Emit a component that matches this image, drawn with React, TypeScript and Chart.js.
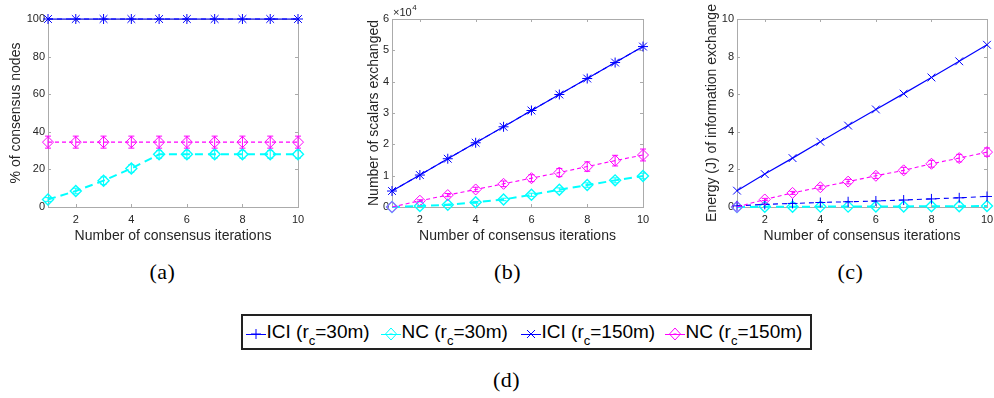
import React, { useEffect, useRef } from 'react';
import { Chart, registerables } from 'chart.js';

Chart.register(...registerables);

// ---------- data ----------
const iterations = [1, 2, 3, 4, 5, 6, 7, 8, 9, 10];
const xTickValues = [2, 4, 6, 8, 10];

// (a) % of consensus nodes
const pctTicks = [0, 20, 40, 60, 80, 100];
const pctICI30 = [100, 100, 100, 100, 100, 100, 100, 100, 100, 100];
const pctNC30 = [4, 8.5, 14, 20.5, 28, 28, 28, 28, 28, 28];
const pctNC30Err = [1, 1.5, 2, 2, 2, 2, 2, 2, 2, 2];
const pctICI150 = [100, 100, 100, 100, 100, 100, 100, 100, 100, 100];
const pctNC150 = [34.5, 34.5, 34.5, 34.5, 34.5, 34.5, 34.5, 34.5, 34.5, 34.5];
const pctNC150Err = [3.2, 3.2, 3.2, 3.2, 3.2, 3.2, 3.2, 3.2, 3.2, 3.2];

// (b) number of scalars exchanged
const scalarTicks = [0, 10000, 20000, 30000, 40000, 50000, 60000];
const scalarICI30 = [5100, 10200, 15400, 20500, 25600, 30800, 35900, 41000, 46100, 51200];
const scalarNC30 = [0, 300, 700, 1500, 2400, 3900, 5500, 7000, 8500, 9900];
const scalarNC30Err = [0, 100, 200, 300, 400, 500, 600, 700, 800, 900];
const scalarICI150 = [5100, 10200, 15400, 20500, 25600, 30800, 35900, 41000, 46100, 51200];
const scalarNC150 = [0, 2000, 3800, 5600, 7400, 9200, 11000, 12900, 14800, 16600];
const scalarNC150Err = [0, 300, 500, 700, 900, 1100, 1300, 1500, 1700, 1900];

// (c) energy (J) of information exchange
const energyTicks = [0, 2, 4, 6, 8, 10];
const energyICI30 = [0.06, 0.14, 0.19, 0.24, 0.28, 0.32, 0.37, 0.43, 0.49, 0.56];
const energyNC30 = [0, 0.01, 0.01, 0.02, 0.02, 0.03, 0.03, 0.04, 0.04, 0.05];
const energyICI150 = [0.87, 1.75, 2.6, 3.47, 4.33, 5.19, 6.03, 6.89, 7.75, 8.63];
const energyNC150 = [0, 0.4, 0.75, 1.05, 1.35, 1.66, 1.95, 2.3, 2.6, 2.92];
const energyNC150Err = [0, 0.06, 0.08, 0.1, 0.12, 0.14, 0.16, 0.18, 0.2, 0.22];

const xTitle = 'Number of consensus iterations';

// ---------- styles ----------
const SANS = '"Liberation Sans", Arial, Helvetica, sans-serif';
const SERIF = '"Liberation Serif", "Times New Roman", serif';
const TEXT = '#262626';
const AXIS = '#ababab';

const styleICI30 = { color: '#0000ff', pointStyle: 'cross', radius: 5, dash: [5, 4], width: 1.1, pw: 1 };
const styleNC30 = { color: '#00ffff', pointStyle: 'rectRot', radius: 5.5, dash: [8, 5], width: 2, pw: 1.4 };
const styleICI150 = { color: '#0000ff', pointStyle: 'crossRot', radius: 5.5, dash: [] as number[], width: 1.2, pw: 1 };
const styleNC150 = { color: '#ff00ff', pointStyle: 'rectRot', radius: 5.5, dash: [4, 3], width: 1.1, pw: 1 };

function makeDataset(label: string, values: number[], st: any, errs: number[] | null, order: number) {
  return {
    label,
    data: iterations.map((x, i) => ({ x, y: values[i] })),
    borderColor: st.color,
    backgroundColor: 'rgba(0,0,0,0)',
    borderWidth: st.width,
    borderDash: st.dash,
    pointStyle: st.pointStyle,
    pointRadius: st.radius,
    pointBorderWidth: st.pw,
    pointBorderColor: st.color,
    pointBackgroundColor: 'rgba(0,0,0,0)',
    tension: 0,
    fill: false,
    clip: false,
    order,
    errorBars: errs,
  };
}

// ---------- plugin: MATLAB-like box, inward ticks, error bars, y title ----------
const matlabAxes = {
  id: 'matlabAxes',
  beforeDatasetsDraw(chart: any) {
    const ctx = chart.ctx;
    const { left, right, top, bottom } = chart.chartArea;
    ctx.save();
    ctx.strokeStyle = AXIS;
    ctx.lineWidth = 1;
    ctx.setLineDash([]);
    ctx.strokeRect(Math.round(left) + 0.5, Math.round(top) + 0.5, Math.round(right - left), Math.round(bottom - top));
    const xs = chart.scales.x;
    const ys = chart.scales.y;
    ctx.beginPath();
    xs.ticks.forEach((t: any) => {
      const px = Math.round(xs.getPixelForValue(t.value)) + 0.5;
      ctx.moveTo(px, bottom);
      ctx.lineTo(px, bottom - 3);
      ctx.moveTo(px, top);
      ctx.lineTo(px, top + 3);
    });
    ys.ticks.forEach((t: any) => {
      const py = Math.round(ys.getPixelForValue(t.value)) + 0.5;
      ctx.moveTo(left, py);
      ctx.lineTo(left + 3, py);
      ctx.moveTo(right, py);
      ctx.lineTo(right - 3, py);
    });
    ctx.stroke();
    ctx.restore();
  },
  afterDatasetsDraw(chart: any) {
    const ctx = chart.ctx;
    const ys = chart.scales.y;
    chart.data.datasets.forEach((ds: any, i: number) => {
      const errs = ds.errorBars;
      if (!errs) return;
      const meta = chart.getDatasetMeta(i);
      ctx.save();
      ctx.strokeStyle = ds.borderColor;
      ctx.lineWidth = 1;
      ctx.setLineDash([]);
      ctx.beginPath();
      meta.data.forEach((pt: any, j: number) => {
        const e = errs[j];
        if (!e) return;
        const v = ds.data[j].y;
        const y1 = ys.getPixelForValue(v - e);
        const y2 = ys.getPixelForValue(v + e);
        const x = pt.x;
        ctx.moveTo(x, y1);
        ctx.lineTo(x, y2);
        ctx.moveTo(x - 3, y1);
        ctx.lineTo(x + 3, y1);
        ctx.moveTo(x - 3, y2);
        ctx.lineTo(x + 3, y2);
      });
      ctx.stroke();
      ctx.restore();
    });
  },
  afterDraw(chart: any, _args: any, opts: any) {
    const ctx = chart.ctx;
    const { left, top, bottom } = chart.chartArea;
    ctx.save();
    ctx.fillStyle = TEXT;
    if (opts.yTitle) {
      ctx.translate(opts.yTitleX, (top + bottom) / 2);
      ctx.rotate(-Math.PI / 2);
      ctx.font = `14px ${SANS}`;
      ctx.textAlign = 'center';
      ctx.textBaseline = 'middle';
      ctx.fillText(opts.yTitle, 0, 0);
      ctx.setTransform(1, 0, 0, 1, 0, 0);
    }
    if (opts.exponent) {
      ctx.font = `11px ${SANS}`;
      ctx.textAlign = 'left';
      ctx.textBaseline = 'middle';
      const base = '\u00d710';
      ctx.fillText(base, left + 1, top - 6);
      const w = ctx.measureText(base).width;
      ctx.font = `8px ${SANS}`;
      ctx.fillText(opts.exponent, left + 1 + w + 0.5, top - 11);
    }
    ctx.restore();
  },
};

type PanelSpec = {
  width: number;
  height: number;
  yAxisWidth: number;
  padRight: number;
  yMax: number;
  yTicks: number[];
  yFormat: (v: number) => string;
  yTitle: string;
  yTitleX: number;
  exponent?: string;
  datasets: any[];
};

function buildConfig(p: PanelSpec): any {
  return {
    type: 'line',
    data: { datasets: p.datasets },
    options: {
      animation: false,
      responsive: false,
      devicePixelRatio: 1,
      events: [],
      layout: { padding: { left: 0, right: p.padRight, top: 19, bottom: 0 } },
      plugins: {
        legend: { display: false },
        tooltip: { enabled: false },
        matlabAxes: { yTitle: p.yTitle, yTitleX: p.yTitleX, exponent: p.exponent },
      },
      scales: {
        x: {
          type: 'linear',
          min: 1,
          max: 10,
          grid: { display: false, drawTicks: false },
          border: { display: false },
          afterBuildTicks: (s: any) => {
            s.ticks = xTickValues.map((v) => ({ value: v }));
          },
          afterFit: (s: any) => {
            s.height = p.height - 207;
            s.paddingLeft = 0;
            s.paddingRight = 0;
          },
          ticks: {
            font: { family: SANS, size: 11 },
            color: TEXT,
            padding: 6,
            maxRotation: 0,
            autoSkip: false,
          },
          title: {
            display: true,
            text: xTitle,
            font: { family: SANS, size: 14 },
            color: TEXT,
            padding: { top: 0, bottom: 5.6 },
          },
        },
        y: {
          type: 'linear',
          min: 0,
          max: p.yMax,
          grid: { display: false, drawTicks: false },
          border: { display: false },
          afterBuildTicks: (s: any) => {
            s.ticks = p.yTicks.map((v) => ({ value: v }));
          },
          afterFit: (s: any) => {
            s.width = p.yAxisWidth;
            s.paddingTop = 0;
            s.paddingBottom = 0;
          },
          ticks: {
            font: { family: SANS, size: 11 },
            color: TEXT,
            padding: 3,
            autoSkip: false,
            callback: (v: number) => p.yFormat(v),
          },
        },
      },
    },
    plugins: [matlabAxes],
  };
}

function ChartPanel({ spec, left, top }: { spec: PanelSpec; left: number; top: number }) {
  const ref = useRef<HTMLCanvasElement | null>(null);
  useEffect(() => {
    if (!ref.current) return;
    const chart = new Chart(ref.current, buildConfig(spec));
    return () => chart.destroy();
  }, []);
  return (
    <canvas
      ref={ref}
      width={spec.width}
      height={spec.height}
      style={{ position: 'absolute', left, top, width: spec.width, height: spec.height }}
    />
  );
}

const specA: PanelSpec = {
  width: 320,
  height: 250,
  yAxisWidth: 48,
  padRight: 22,
  yMax: 100,
  yTicks: pctTicks,
  yFormat: (v) => String(v),
  yTitle: '% of consensus nodes',
  yTitleX: 16,
  datasets: [
    makeDataset('ICI (rc=150m)', pctICI150, styleICI150, null, 0),
    makeDataset('NC (rc=150m)', pctNC150, styleNC150, pctNC150Err, 1),
    makeDataset('ICI (rc=30m)', pctICI30, styleICI30, null, 2),
    makeDataset('NC (rc=30m)', pctNC30, styleNC30, pctNC30Err, 3),
  ],
};

const specB: PanelSpec = {
  width: 330,
  height: 250,
  yAxisWidth: 62,
  padRight: 17,
  yMax: 60000,
  yTicks: scalarTicks,
  yFormat: (v) => String(v / 10000),
  yTitle: 'Number of scalars exchanged',
  yTitleX: 44,
  exponent: '4',
  datasets: [
    makeDataset('ICI (rc=150m)', scalarICI150, styleICI150, null, 0),
    makeDataset('NC (rc=150m)', scalarNC150, styleNC150, scalarNC150Err, 1),
    makeDataset('ICI (rc=30m)', scalarICI30, styleICI30, null, 2),
    makeDataset('NC (rc=30m)', scalarNC30, styleNC30, scalarNC30Err, 3),
  ],
};

const specC: PanelSpec = {
  width: 334,
  height: 250,
  yAxisWidth: 77,
  padRight: 7,
  yMax: 10,
  yTicks: energyTicks,
  yFormat: (v) => String(v),
  yTitle: 'Energy (J) of information exchange',
  yTitleX: 52,
  datasets: [
    makeDataset('ICI (rc=150m)', energyICI150, styleICI150, null, 0),
    makeDataset('NC (rc=150m)', energyNC150, styleNC150, energyNC150Err, 1),
    makeDataset('ICI (rc=30m)', energyICI30, styleICI30, null, 2),
    makeDataset('NC (rc=30m)', energyNC30, styleNC30, null, 3),
  ],
};

function LegendMark({ st }: { st: any }) {
  const c = st.color;
  let mark: React.ReactNode = null;
  if (st.pointStyle === 'cross') {
    mark = <path d="M10 5 V15 M5 10 H15" stroke={c} strokeWidth={1} fill="none" />;
  } else if (st.pointStyle === 'crossRot') {
    mark = <path d="M6 6 L14 14 M14 6 L6 14" stroke={c} strokeWidth={1} fill="none" />;
  } else {
    mark = (
      <g>
        <path d="M10 4 L15.5 10 L10 16 L4.5 10 Z" stroke={c} strokeWidth={1} fill="none" />
        <path d="M8.5 10 H11.5" stroke={c} strokeWidth={1} />
      </g>
    );
  }
  return (
    <svg width={20} height={20} style={{ position: 'absolute', left: -21, top: 3.5 }}>
      <path d="M0 10.5 H20" stroke={c} strokeWidth={1} />
      {mark}
    </svg>
  );
}

const legendItems = [
  { name: 'ICI', rc: '30m', st: styleICI30, x: 266.5 },
  { name: 'NC', rc: '30m', st: styleNC30, x: 401.5 },
  { name: 'ICI', rc: '150m', st: styleICI150, x: 541.5 },
  { name: 'NC', rc: '150m', st: styleNC150, x: 685.5 },
];

function Caption({ text, cx, top }: { text: string; cx: number; top: number }) {
  return (
    <div
      style={{
        position: 'absolute',
        left: cx - 30,
        top,
        width: 60,
        textAlign: 'center',
        fontFamily: SERIF,
        fontSize: 22,
        lineHeight: '22px',
        letterSpacing: '0.5px',
        color: '#000',
      }}
    >
      {text}
    </div>
  );
}

export default function App() {
  return (
    <div
      style={{
        position: 'absolute',
        left: 0,
        top: 0,
        width: 994,
        height: 398,
        background: '#fff',
        overflow: 'hidden',
      }}
    >
      <ChartPanel spec={specA} left={0} top={0} />
      <ChartPanel spec={specB} left={330} top={0} />
      <ChartPanel spec={specC} left={660} top={0} />
      <Caption text="(a)" cx={162.5} top={261} />
      <Caption text="(b)" cx={507.5} top={261} />
      <Caption text="(c)" cx={850.5} top={261} />
      <div
        style={{
          position: 'absolute',
          left: 241,
          top: 314,
          width: 571,
          height: 36,
          border: '2px solid #222',
          boxSizing: 'border-box',
        }}
      />
      {legendItems.map((it, i) => (
        <div
          key={i}
          style={{
            position: 'absolute',
            left: it.x,
            top: 320.5,
            height: 22,
            lineHeight: '22px',
            fontFamily: SANS,
            fontSize: 19,
            color: '#000',
            whiteSpace: 'nowrap',
          }}
        >
          <LegendMark st={it.st} />
          {it.name} (r
          <span style={{ fontSize: 13, position: 'relative', top: 7 }}>c</span>={it.rc})
        </div>
      ))}
      <Caption text="(d)" cx={506.5} top={369} />
    </div>
  );
}
